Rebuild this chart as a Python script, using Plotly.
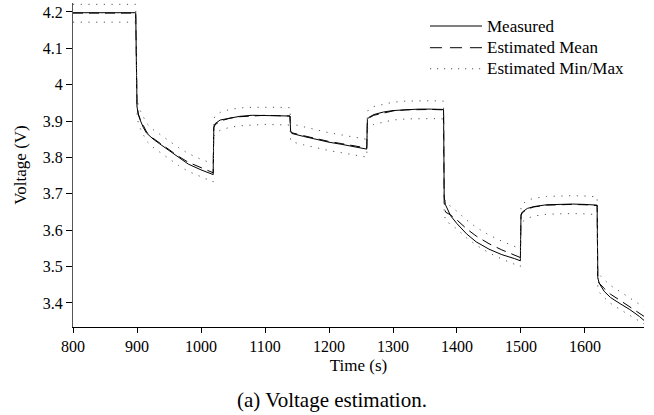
import plotly.graph_objects as go

time_s = [800, 898, 900, 902, 905, 910, 915, 925, 935, 950, 965, 980, 1000, 1019,
          1020, 1022, 1030, 1045, 1060, 1080, 1100, 1120, 1139,
          1140, 1142, 1160, 1180, 1200, 1220, 1240, 1259,
          1260, 1262, 1270, 1285, 1300, 1320, 1340, 1360, 1379,
          1380, 1382, 1390, 1400, 1415, 1430, 1450, 1470, 1490, 1499,
          1500, 1502, 1510, 1520, 1540, 1560, 1580, 1600, 1619,
          1620, 1622, 1630, 1640, 1655, 1670, 1685, 1695]

measured = [4.198, 4.198, 3.940, 3.918, 3.903, 3.882, 3.867, 3.851, 3.838, 3.819, 3.799, 3.782, 3.766, 3.753,
            3.884, 3.893, 3.903, 3.909, 3.913, 3.916, 3.916, 3.915, 3.914,
            3.871, 3.866, 3.858, 3.849, 3.842, 3.836, 3.830, 3.823,
            3.905, 3.910, 3.918, 3.925, 3.929, 3.932, 3.933, 3.933, 3.932,
            3.690, 3.670, 3.640, 3.618, 3.590, 3.568, 3.548, 3.533, 3.522, 3.516,
            3.643, 3.650, 3.660, 3.665, 3.670, 3.672, 3.672, 3.671, 3.669,
            3.470, 3.455, 3.432, 3.415, 3.398, 3.382, 3.363, 3.348]

est_mean = [4.197, 4.197, 3.945, 3.920, 3.905, 3.885, 3.870, 3.853, 3.840, 3.822, 3.803, 3.787, 3.771, 3.758,
            3.882, 3.890, 3.900, 3.908, 3.912, 3.915, 3.916, 3.915, 3.914,
            3.873, 3.868, 3.860, 3.851, 3.844, 3.838, 3.832, 3.826,
            3.903, 3.908, 3.916, 3.923, 3.928, 3.931, 3.932, 3.932, 3.931,
            3.675, 3.650, 3.642, 3.628, 3.604, 3.584, 3.563, 3.546, 3.532, 3.525,
            3.640, 3.648, 3.658, 3.664, 3.669, 3.671, 3.671, 3.670, 3.668,
            3.465, 3.455, 3.440, 3.424, 3.407, 3.390, 3.372, 3.360]

est_max = [4.221, 4.221, 3.968, 3.944, 3.929, 3.909, 3.894, 3.877, 3.864, 3.846, 3.827, 3.811, 3.795, 3.783,
           3.906, 3.914, 3.924, 3.932, 3.936, 3.938, 3.939, 3.938, 3.937,
           3.897, 3.892, 3.884, 3.875, 3.868, 3.862, 3.856, 3.850,
           3.926, 3.932, 3.940, 3.947, 3.952, 3.955, 3.956, 3.956, 3.955,
           3.699, 3.675, 3.666, 3.652, 3.628, 3.608, 3.587, 3.570, 3.556, 3.549,
           3.664, 3.672, 3.682, 3.688, 3.693, 3.695, 3.695, 3.694, 3.692,
           3.489, 3.479, 3.464, 3.448, 3.431, 3.414, 3.396, 3.385]

est_min = [4.172, 4.172, 3.920, 3.895, 3.880, 3.860, 3.845, 3.828, 3.815, 3.797, 3.778, 3.762, 3.746, 3.733,
           3.857, 3.865, 3.875, 3.883, 3.887, 3.890, 3.891, 3.890, 3.889,
           3.848, 3.843, 3.835, 3.826, 3.819, 3.813, 3.807, 3.801,
           3.878, 3.883, 3.891, 3.898, 3.903, 3.906, 3.907, 3.907, 3.906,
           3.650, 3.625, 3.617, 3.603, 3.579, 3.559, 3.538, 3.521, 3.507, 3.500,
           3.615, 3.623, 3.633, 3.639, 3.644, 3.646, 3.646, 3.645, 3.643,
           3.440, 3.430, 3.415, 3.399, 3.382, 3.365, 3.350, 3.340]

x_ticks = [800, 900, 1000, 1100, 1200, 1300, 1400, 1500, 1600]
y_ticks = [3.4, 3.5, 3.6, 3.7, 3.8, 3.9, 4.0, 4.1, 4.2]
y_tick_text = ["3.4", "3.5", "3.6", "3.7", "3.8", "3.9", "4", "4.1", "4.2"]

legend_labels = ["Measured", "Estimated Mean", "Estimated Min/Max"]

FONT = "Liberation Serif"
SOLID = dict(color="black", width=1)
DASHED = dict(color="black", width=1, dash="10px,6px")
DOTTED = dict(color="#555", width=1, dash="1.2px,6.5px")

fig = go.Figure()
fig.add_trace(go.Scatter(x=time_s, y=measured, mode="lines", name=legend_labels[0],
                         line=SOLID, showlegend=False))
fig.add_trace(go.Scatter(x=time_s, y=est_mean, mode="lines", name=legend_labels[1],
                         line=DASHED, showlegend=False))
fig.add_trace(go.Scatter(x=time_s, y=est_max, mode="lines", name=legend_labels[2],
                         line=DOTTED, showlegend=False))
fig.add_trace(go.Scatter(x=time_s, y=est_min, mode="lines", name=legend_labels[2],
                         line=DOTTED, showlegend=False))

# manual legend (line samples + labels), paper coordinates
leg_x0, leg_x1, leg_tx = 0.6252, 0.7163, 0.7215
leg_rows = [0.929, 0.862, 0.797]
leg_styles = [SOLID, dict(color="black", width=1, dash="12px,8px"), dict(color="#555", width=1, dash="1.2px,5.8px")]
shapes = []
annotations = []
for lab, yy, st in zip(legend_labels, leg_rows, leg_styles):
    shapes.append(dict(type="line", xref="paper", yref="paper", x0=leg_x0, x1=leg_x1,
                       y0=yy, y1=yy, line=st))
    annotations.append(dict(text=lab, xref="paper", yref="paper", x=leg_tx, y=yy,
                            xanchor="left", yanchor="middle", showarrow=False,
                            font=dict(size=17, family=FONT, color="black")))
annotations.append(dict(text="(a) Voltage estimation.", xref="paper", yref="paper",
                        x=0.4536, y=-0.225, xanchor="center", yanchor="middle",
                        showarrow=False, font=dict(size=21, family=FONT, color="black")))

fig.update_layout(
    width=654, height=415,
    margin=dict(l=73, r=10, t=3, b=88),
    paper_bgcolor="white", plot_bgcolor="white",
    font=dict(family=FONT, size=16, color="black"),
    showlegend=False,
    xaxis=dict(range=[800, 1692.2], tickvals=x_ticks, ticks="outside", ticklen=5,
               tickcolor="black", showline=True, linecolor="black", linewidth=1,
               showgrid=False, zeroline=False, tickfont=dict(family=FONT, size=16),
               title=dict(text="Time (s)", font=dict(size=17, family=FONT), standoff=4)),
    yaxis=dict(range=[3.334, 4.2247], tickvals=y_ticks, ticktext=y_tick_text,
               ticks="outside", ticklen=6, tickcolor="black", showline=True,
               linecolor="#555", linewidth=1, showgrid=False, zeroline=False,
               tickfont=dict(family=FONT, size=16),
               title=dict(text="Voltage (V)", font=dict(size=17, family=FONT), standoff=11)),
    shapes=shapes,
    annotations=annotations,
)

fig.write_html("out.html")
